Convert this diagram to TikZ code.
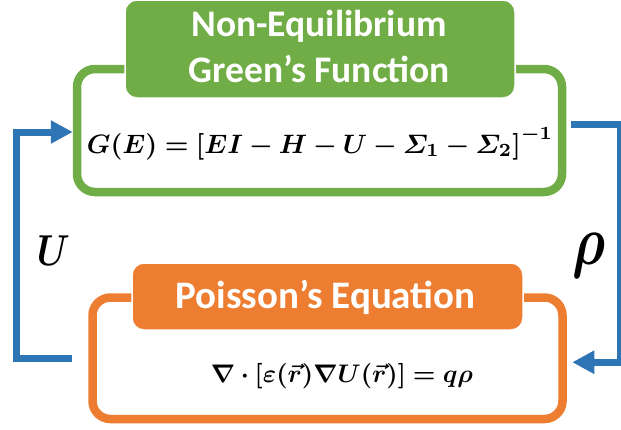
\documentclass[tikz,border=0pt]{standalone}
\usepackage{amsmath,bm}
\usepackage{fontspec}
\newfontfamily\titlefont{Carlito}
\usetikzlibrary{arrows.meta,calc}
\definecolor{ngreen}{HTML}{70AD47}
\definecolor{norange}{HTML}{ED7D31}
\definecolor{nblue}{HTML}{2E75B6}
\begin{document}
\begin{tikzpicture}[x=1pt,y=-1pt,
  frame/.style={draw=#1, line width=8.5pt, rounded corners=18pt, fill=white, inner sep=0pt},
  titlebox/.style={fill=#1, draw=white, line width=1.5pt, rounded corners=12pt, inner sep=0pt},
  titletext/.style={inner sep=0pt, anchor=base, text=white, font=\titlefont\bfseries\fontsize{#1}{#1}\selectfont},
  flow/.style={draw=nblue, line width=7pt, -{Triangle[length=22pt,width=22pt]}},
  eqn/.style={inner sep=0pt, anchor=base},
  lbl/.style={inner sep=0pt, anchor=base}
  ]
\useasboundingbox (0,0) rectangle (621,429);
% frames
\node[frame=ngreen, minimum width=485pt, minimum height=123pt] (ngf) at (319.5,130.5) {};
\node[frame=norange, minimum width=470pt, minimum height=121.5pt] (pfr) at (327.5,358.25) {};
% titles
\node[titlebox=ngreen, minimum width=390pt, minimum height=98pt] (ngt) at (320,49) {};
\node[titletext=37.5] (ngl1) at (319,36) {Non-Equilibrium};
\node[titletext=37.5] (ngl2) at (319.5,82) {Green’s Function};
\node[titlebox=norange, minimum width=391pt, minimum height=67pt] (pet) at (327.5,296.5) {};
\node[titletext=39] (petx) at (325.5,308) {Poisson’s Equation};
% equations
\node[eqn] (geq) at (320,153) {\resizebox{466pt}{!}{$\bm{G(E) = [EI - H - U - \varSigma_1 - \varSigma_2]^{-1}}$}};
\node[eqn] (peq) at (342,382) {\resizebox{262pt}{!}{$\bm{\nabla\cdot[\varepsilon(\vec{r})\nabla U(\vec{r})] = q\rho}$}};
% labels
\node[lbl] (ulbl) at (53.5,265) {\resizebox{33pt}{!}{\scalebox{1}[1.2]{$\bm{U}$}}};
\node[lbl] (rholbl) at (589,264) {\resizebox{33pt}{!}{\scalebox{1}[1.3]{$\bm{\rho}$}}};
% arrows
\draw[flow] ([xshift=-16.5pt]pfr.west) -- ++(-55,0) |- ([yshift=-1.5pt]ngf.west);
\draw[flow] ([shift={(5,-6.5)}]ngf.east) -- ++(49,0) |- ([shift={(5.5,4)}]pfr.east);
\end{tikzpicture}
\end{document}
